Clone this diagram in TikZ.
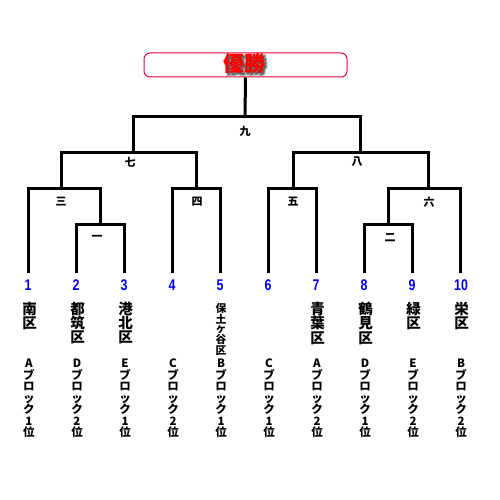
\documentclass[tikz,border=0pt]{standalone}
\usepackage{fontspec}
\usepackage{graphicx}
\setmainfont{Noto Sans CJK JP}
\newfontfamily\numfont{Liberation Sans}
\definecolor{winred}{RGB}{235,0,55}
\definecolor{numblue}{RGB}{0,0,255}
\tikzset{
  bracket/.style={line width=3pt, line join=miter, black},
  rlabel/.style={font=\fontsize{11}{12}\selectfont\bfseries, inner sep=0pt},
  numlab/.style={font=\fontsize{15.5}{15}\selectfont\numfont\bfseries, text=numblue, inner sep=0pt},
  namelab/.style={font=\fontsize{14.5}{14.2}\selectfont\bfseries, align=center, anchor=north, inner sep=0pt},
  smallname/.style={font=\fontsize{10.8}{8.7}\selectfont\bfseries, align=center, anchor=north, inner sep=0pt},
  blocklab/.style={font=\fontsize{11.5}{11.5}\selectfont\bfseries, align=center, anchor=north, inner sep=0pt},
  winbox/.style={draw=winred, line width=1pt, rounded corners=6pt, minimum width=203pt, minimum height=24pt, inner sep=0pt},
  wintext/.style={font=\fontsize{21}{21}\selectfont\bfseries, inner sep=0pt},
}
\newcommand{\numtxt}[1]{\scalebox{0.8}[1]{#1}}
\newcommand{\shadowlayer}[3]{\rlap{\hspace{#1pt}\raisebox{-#2pt}{\textcolor{#3}{優勝}}}}
\begin{document}
\begin{tikzpicture}[x=1pt,y=-1pt]
\useasboundingbox (0,0) rectangle (500,500);
% players
\foreach \i/\x in {1/28,2/76,3/124,4/172,5/220,6/268,7/316,8/364,9/412,10/460}{
  \coordinate (p\i) at (\x,273);
}
% match points
\coordinate (m1) at (100,224);
\coordinate (m2) at (388,224);
\coordinate (m3) at (61,188);
\coordinate (m4) at (196,188);
\coordinate (m5) at (293,188);
\coordinate (m6) at (428,188);
\coordinate (m7) at (133,152);
\coordinate (m8) at (360,152);
\coordinate (m9) at (245,117);
% winner box
\node[winbox] (win) at (245.5,65) {};
\node[wintext] (wintxt) at (244,65)
  {\shadowlayer{3.2}{3.2}{black!30}\shadowlayer{1.2}{3.0}{black!35}\shadowlayer{3.0}{1.2}{black!35}\shadowlayer{2.2}{2.2}{black!60}\textcolor{red}{優勝}};
% bracket lines
\draw[bracket] (p2) |- (m1) -| (p3);
\draw[bracket] (p1) |- (m3) -| (m1);
\draw[bracket] (p4) |- (m4) -| (p5);
\draw[bracket] (m3) |- (m7) -| (m4);
\draw[bracket] (p6) |- (m5) -| (p7);
\draw[bracket] (p8) |- (m2) -| (p9);
\draw[bracket] (m2) |- (m6) -| (p10);
\draw[bracket] (m5) |- (m8) -| (m6);
\draw[bracket] (m7) |- (m9) -| (m8);
\draw[bracket] (m9) -- (win.south);
% round labels
\node[rlabel] (l9) at (245,131) {九};
\node[rlabel] (l7) at (130,162) {七};
\node[rlabel] (l8) at (357,162) {八};
\node[rlabel] (l3) at (61,202) {三};
\node[rlabel] (l4) at (197,202) {四};
\node[rlabel] (l5) at (293,202) {五};
\node[rlabel] (l6) at (429,202) {六};
\node[rlabel] (l1) at (97,238) {一};
\node[rlabel] (l2) at (390,238) {二};
% numbers
\foreach \i/\x in {1/28,2/76,3/124,4/172,5/220,6/268,7/316,8/364,9/412,10/461}{
  \node[numlab] (n\i) at (\x,285.5) {\numtxt{\i}};
}
% names
\node[namelab] (d1) at (29.5,302) {南\\区};
\node[namelab] (d2) at (77.5,302) {都\\筑\\区};
\node[namelab] (d3) at (125.5,302) {港\\北\\区};
\node[smallname] (d5) at (221,303) {保\\土\\ヶ\\谷\\区};
\node[namelab] (d7) at (317.5,302) {青\\葉\\区};
\node[namelab] (d8) at (365.5,302) {鶴\\見\\区};
\node[namelab] (d9) at (413.5,302) {緑\\区};
\node[namelab] (d10) at (461.5,302) {栄\\区};
% blocks
\foreach \i/\x/\b/\r in {1/29/A/1,2/77/D/2,3/125/E/1,4/173/C/2,5/221/B/1,6/269/C/1,7/317/A/2,8/365/D/1,9/413/E/2,10/461/B/2}{
  \node[blocklab] (b\i) at (\x,359) {\b\\ブ\\ロ\\ッ\\ク\\\r\\位};
}
\end{tikzpicture}
\end{document}
